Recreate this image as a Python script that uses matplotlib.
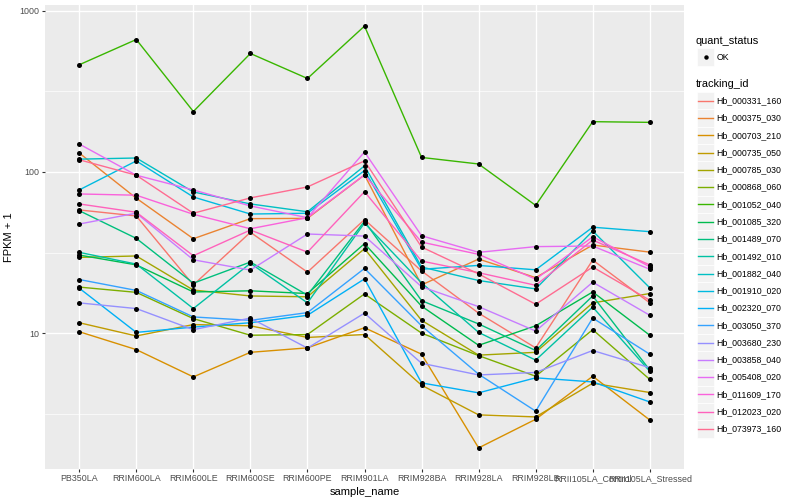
import numpy as np
import matplotlib
matplotlib.use("Agg")
import matplotlib.pyplot as plt
from matplotlib.lines import Line2D
from matplotlib.patches import Rectangle

plt.rcParams['font.family'] = ['Liberation Sans', 'DejaVu Sans']

samples = ["PB350LA", "RRIM600LA", "RRIM600LE", "RRIM600SE", "RRIM600PE",
           "RRIM901LA", "RRIM928BA", "RRIM928LA", "RRIM928LB",
           "RRII105LA_Control", "RRII105LA_Stressed"]

tracking_ids = ["Hb_000331_160", "Hb_000375_030", "Hb_000703_210", "Hb_000735_050",
                "Hb_000785_030", "Hb_000868_060", "Hb_001052_040", "Hb_001085_320",
                "Hb_001489_070", "Hb_001492_010", "Hb_001882_040", "Hb_001910_020",
                "Hb_002320_070", "Hb_003050_370", "Hb_003680_230", "Hb_003858_040",
                "Hb_005408_020", "Hb_011609_170", "Hb_012023_020", "Hb_073973_160"]

colors = ["#F8766D", "#EA8331", "#D89000", "#C09B00", "#A3A500", "#7CAE00", "#39B600",
          "#00BB4E", "#00BF7D", "#00C1A3", "#00BFC4", "#00BAE0", "#00B0F6", "#35A2FF",
          "#9590FF", "#C77CFF", "#E76BF3", "#FA62DB", "#FF62BC", "#FF6C91"]

# FPKM + 1 values per tracking id, one value per sample
Hb_000331_160 = [58.1, 53.3, 19.9, 42.2, 23.9, 50.6, 24.3, 13.3, 8.1, 28.4, 15.4]
Hb_000375_030 = [131, 68.7, 38.5, 51.3, 51.5, 95.8, 19.9, 28.8, 22.1, 35.2, 31.8]
Hb_000703_210 = [10.2, 7.9, 5.35, 7.6, 8.1, 10.8, 7.4, 1.94, 2.92, 5.4, 2.89]
Hb_000735_050 = [11.6, 9.6, 11.3, 11.1, 9.4, 9.8, 4.75, 3.11, 3.02, 4.89, 4.28]
Hb_000785_030 = [29.5, 30.1, 18.5, 17.0, 16.8, 33.4, 12.0, 7.3, 7.6, 15.4, 17.6]
Hb_000868_060 = [19.3, 17.9, 12.3, 9.7, 9.8, 17.5, 10.0, 7.25, 5.4, 10.5, 5.16]
Hb_001052_040 = [462, 663, 237, 543, 380, 803, 123, 112, 62, 205, 203]
Hb_001085_320 = [30.5, 26.5, 18.0, 18.3, 17.6, 35.9, 14.7, 8.4, 11.1, 18.0, 9.7]
Hb_001489_070 = [57.5, 38.7, 20.4, 27.6, 17.2, 49.4, 15.9, 11.4, 7.8, 17.0, 5.9]
Hb_001492_010 = [31.7, 26.8, 14.2, 27.1, 15.4, 48.2, 20.5, 10.1, 6.8, 14.5, 5.8]
Hb_001882_040 = [120, 122, 75.1, 63.3, 56.6, 109, 25.7, 21.2, 18.8, 43.0, 19.1]
Hb_001910_020 = [77.3, 117, 69.9, 54.8, 55.4, 102, 24.9, 26.3, 24.7, 45.4, 42.6]
Hb_002320_070 = [19.0, 10.1, 10.9, 11.6, 12.9, 21.7, 4.91, 4.26, 5.28, 4.98, 3.74]
Hb_003050_370 = [21.5, 18.4, 12.6, 12.0, 13.4, 25.2, 11.1, 5.56, 3.28, 12.4, 7.4]
Hb_003680_230 = [15.4, 14.2, 10.5, 12.4, 8.07, 13.3, 6.5, 5.5, 5.7, 7.8, 6.1]
Hb_003858_040 = [47.5, 55.5, 28.5, 24.6, 41.2, 40.0, 19.4, 14.6, 10.3, 20.7, 12.9]
Hb_005408_020 = [149, 95.4, 77.3, 61.5, 52.0, 133, 40.2, 31.7, 34.4, 34.7, 24.9]
Hb_011609_170 = [73.0, 71.7, 54.6, 44.4, 52.0, 95.8, 36.7, 30.8, 21.6, 39.6, 25.8]
Hb_012023_020 = [63.3, 56.2, 30.2, 43.6, 31.8, 75.4, 28.0, 23.7, 19.8, 37.8, 26.5]
Hb_073973_160 = [119, 95.4, 55.4, 69.0, 80.7, 117, 34.2, 23.3, 15.1, 25.7, 16.0]

series = [Hb_000331_160, Hb_000375_030, Hb_000703_210, Hb_000735_050, Hb_000785_030,
          Hb_000868_060, Hb_001052_040, Hb_001085_320, Hb_001489_070, Hb_001492_010,
          Hb_001882_040, Hb_001910_020, Hb_002320_070, Hb_003050_370, Hb_003680_230,
          Hb_003858_040, Hb_005408_020, Hb_011609_170, Hb_012023_020, Hb_073973_160]

W, H = 800, 500
fig = plt.figure(figsize=(8, 5), dpi=100)
L, R, T, B = 45, 684, 5, 469
ax = fig.add_axes([L / W, 1 - B / H, (R - L) / W, (B - T) / H])
ax.set_facecolor("#EBEBEB")
for s in ax.spines.values():
    s.set_visible(False)

x = np.arange(len(samples))
allv = np.concatenate([np.asarray(s, float) for s in series])
lo, hi = np.log10(allv.min()), np.log10(allv.max())
pad = 0.05 * (hi - lo)
ax.set_yscale("log")
ax.set_ylim(10 ** (lo - pad), 10 ** (hi + pad))
ax.set_xlim(-0.6, len(samples) - 1 + 0.6)

# grid
for v in [10 ** 0.5, 10 ** 1.5, 10 ** 2.5]:
    ax.axhline(v, color="white", lw=0.5, zorder=0)
for v in [10, 100, 1000]:
    ax.axhline(v, color="white", lw=1.0, zorder=0)
for xi in x:
    ax.axvline(xi, color="white", lw=1.0, zorder=0)

for vals, c in zip(series, colors):
    ax.plot(x, vals, color=c, lw=1.0, zorder=2)
for vals in series:
    ax.plot(x, vals, ls="none", marker="o", ms=3.6, mew=0, color="black", zorder=3)

ax.set_yticks([10, 100, 1000])
ax.set_yticklabels(["10", "100", "1000"])
ax.yaxis.set_minor_locator(matplotlib.ticker.NullLocator())
ax.set_xticks(x)
ax.set_xticklabels(samples)
ax.tick_params(axis="both", which="major", length=2.0, width=0.8, color="#333333",
               labelcolor="#4D4D4D", labelsize=6.4, pad=1.8)
ax.set_xlabel("sample_name", fontsize=8.0, labelpad=2.5)
ax.set_ylabel("FPKM + 1", fontsize=8.0, labelpad=4)

# legends (figure pixel coordinates)
def fx(px):
    return px / W

def fy(py):
    return 1 - py / H

key = 17.28
kx = 697
fig.text(fx(696), fy(40.5), "quant_status", fontsize=7.9, va="center", ha="left")
fig.add_artist(Rectangle((fx(kx), fy(57 + key / 2)), key / W, key / H,
                         transform=fig.transFigure, facecolor="#F2F2F2", edgecolor="white", lw=0.5))
fig.add_artist(Line2D([fx(kx + key / 2)], [fy(57)], marker="o", ms=3.2, mew=0, color="black",
                      transform=fig.transFigure))
fig.text(fx(716.5), fy(57), "OK", fontsize=6.3, va="center", ha="left")

fig.text(fx(696), fy(84), "tracking_id", fontsize=7.9, va="center", ha="left")
y0 = 100.7
for i, (tid, c) in enumerate(zip(tracking_ids, colors)):
    yc = y0 + i * key
    fig.add_artist(Rectangle((fx(kx), fy(yc + key / 2)), key / W, key / H,
                             transform=fig.transFigure, facecolor="#F2F2F2",
                             edgecolor="white", lw=0.5))
    fig.add_artist(Line2D([fx(kx + 1), fx(kx + key - 1)], [fy(yc), fy(yc)], color=c, lw=1.0,
                          transform=fig.transFigure))
    fig.text(fx(716.5), fy(yc), tid, fontsize=6.3, va="center", ha="left")

fig.savefig("out.png", dpi=100, facecolor="white")
